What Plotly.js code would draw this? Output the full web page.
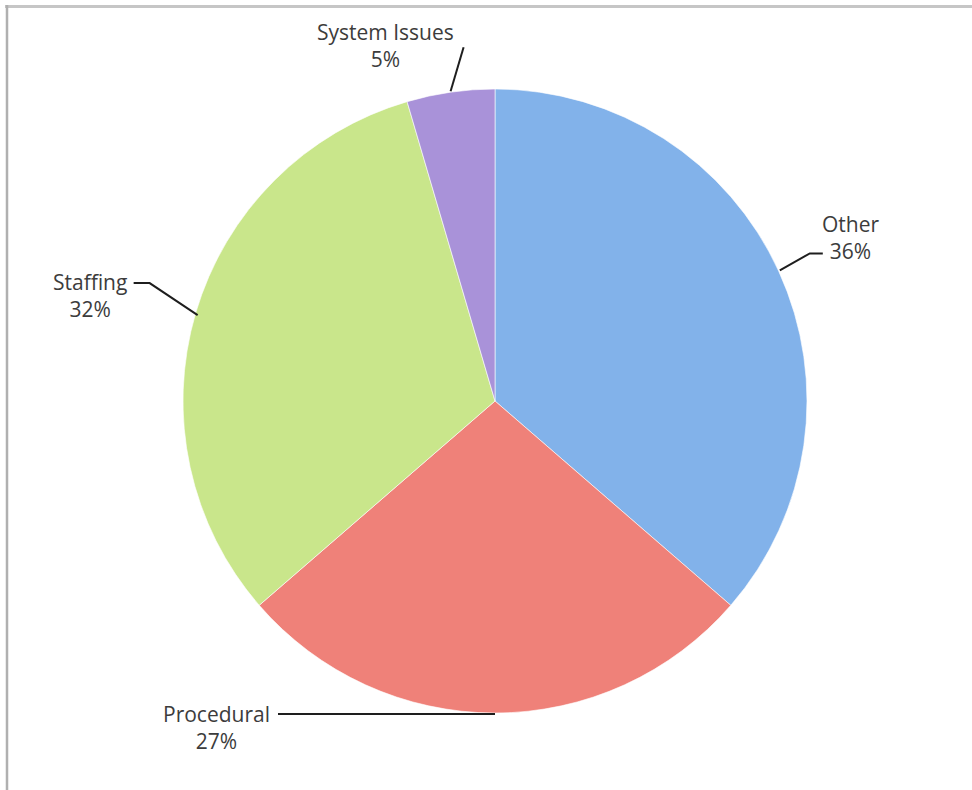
<!DOCTYPE html>
<html>
<head>
<meta charset="utf-8">
<script src="https://cdn.plot.ly/plotly-3.0.1.min.js"></script>
<style>
  html, body { margin: 0; padding: 0; background: #ffffff; }
  #chart { width: 972px; height: 790px; }
</style>
</head>
<body>
<div id="chart"></div>
<script>
// ---- data ----
const labels = ['Other', 'Procedural', 'Staffing', 'System Issues'];
const values = [8, 6, 7, 1];   // counts; shown as rounded percentages
const sliceColors = ['#82b2ea', '#ef8179', '#c9e68b', '#a992d9'];

// ---- layout helpers (pixel geometry of the page) ----
const W = 972, H = 790;
const CX = 495, CY = 401, R = 312;
const px = x => x / W;
const py = y => 1 - y / H;

// label leader offsets (pixels, relative to the slice's edge midpoint)
const leaderOffsets = {
  'Other':         { pts: [[1, -1], [31, -18], [44, -18]], text: [72, -34] },
  'Procedural':    { pts: [[0, 1], [-217, 1]], text: [-279, 14] },
  'Staffing':      { pts: [[2, 2], [-46, -30], [-62, -30]], text: [-106, -18] },
  'System Issues': { pts: [[0, -1], [13, -45]], text: [-65, -47] }
};

const total = values.reduce((a, b) => a + b, 0);
const shapes = [];
const annotations = [];
let cum = 0;
labels.forEach((lab, i) => {
  const mid = (cum + values[i] / 2) / total * 2 * Math.PI; // clockwise from 12 o'clock
  cum += values[i];
  const ax = CX + R * Math.sin(mid);
  const ay = CY - R * Math.cos(mid);
  const off = leaderOffsets[lab];
  const path = off.pts.map((p, k) => (k === 0 ? 'M ' : 'L ') + px(ax + p[0]) + ' ' + py(ay + p[1])).join(' ');
  shapes.push({
    type: 'path', xref: 'paper', yref: 'paper', path: path,
    line: { color: '#1e1e1e', width: 2 }
  });
  const pct = Math.round(values[i] / total * 100);
  annotations.push({
    xref: 'paper', yref: 'paper',
    x: px(ax + off.text[0]), y: py(ay + off.text[1]),
    xanchor: 'center', yanchor: 'middle',
    text: lab + '<br>' + pct + '%',
    showarrow: false,
    font: { family: 'Open Sans, Lato, sans-serif', size: 21, color: '#3c3c3c' }
  });
});

// frame lines (top and left edges of the picture)
shapes.push({ type: 'line', xref: 'paper', yref: 'paper', x0: px(5), x1: 1, y0: py(6.5), y1: py(6.5),
  line: { color: '#c6c6c6', width: 3 } });
shapes.push({ type: 'line', xref: 'paper', yref: 'paper', x0: px(7), x1: px(7), y0: py(5), y1: 0,
  line: { color: '#b0b0b0', width: 2.5 } });

const trace = {
  type: 'pie',
  labels: labels,
  values: values,
  sort: false,
  direction: 'clockwise',
  rotation: 0,
  textinfo: 'none',
  hoverinfo: 'label+percent',
  marker: { colors: sliceColors, line: { color: 'rgba(255,255,255,0.6)', width: 1 } },
  domain: { x: [px(CX - R), px(CX + R)], y: [py(CY + R), py(CY - R)] },
  showlegend: false
};

const layout = {
  width: W, height: H,
  margin: { l: 0, r: 0, t: 0, b: 0 },
  paper_bgcolor: '#ffffff',
  plot_bgcolor: '#ffffff',
  showlegend: false,
  shapes: shapes,
  annotations: annotations
};

Plotly.newPlot('chart', [trace], layout, { displayModeBar: false, staticPlot: true });
</script>
</body>
</html>
